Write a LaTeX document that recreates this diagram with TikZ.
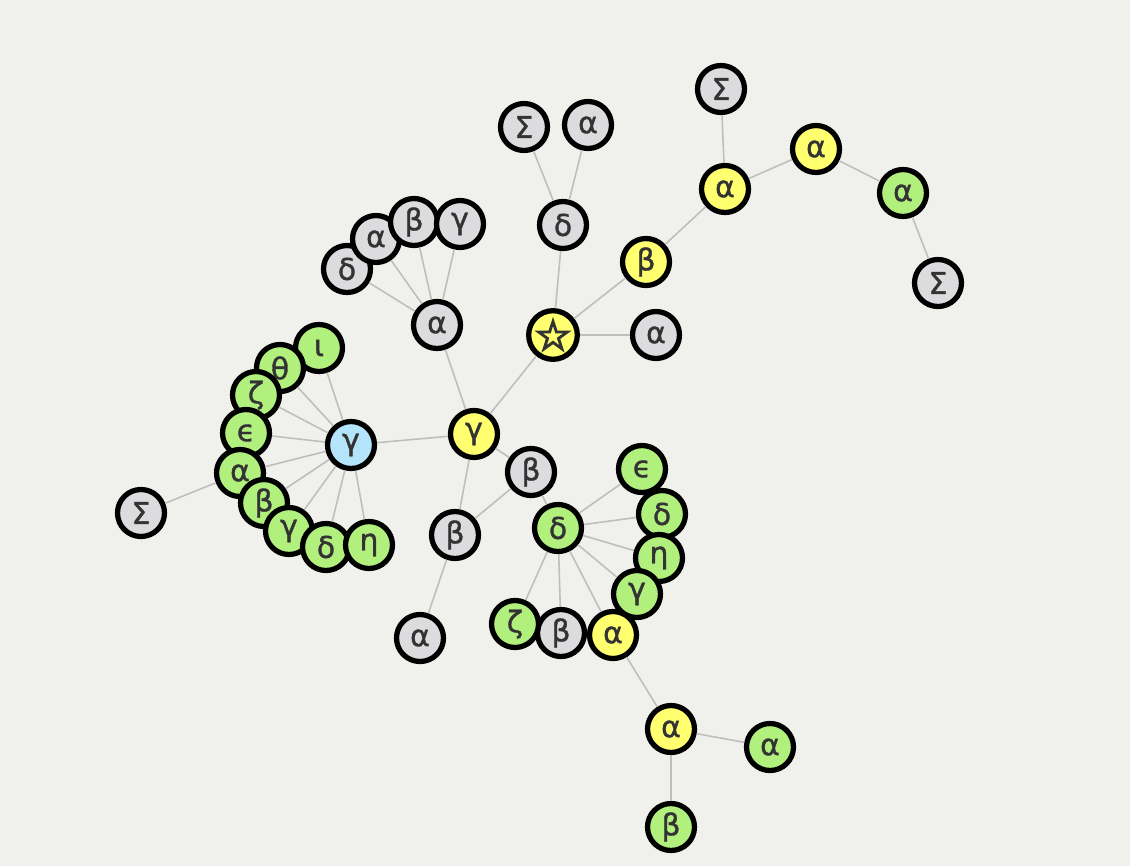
\documentclass[tikz,border=0pt]{standalone}
\usepackage{fontspec}
\setmainfont{DejaVu Sans}[FakeBold=1.2]
\newfontfamily\starfont{DejaVu Sans}[FakeBold=4]
\usepackage{xcolor}

\definecolor{bgpaper}{HTML}{F0F0EC}
\definecolor{greyfill}{HTML}{DCDCDE}
\definecolor{yellowfill}{HTML}{FFFF70}
\definecolor{greenfill}{HTML}{B2F07E}
\definecolor{bluefill}{HTML}{B4E4FA}
\definecolor{edgegrey}{HTML}{BEBEBA}

\begin{document}
\begin{tikzpicture}[
      x=0.02cm, y=-0.02cm,
      atom/.style = {
        circle, draw=black, line width=3pt,
        minimum size=0.94cm, inner sep=0pt,
        font=\fontsize{17}{17}\selectfont, text=black!80
      },
      grey/.style   = {atom, fill=greyfill},
      yellow/.style = {atom, fill=yellowfill},
      green/.style  = {atom, fill=greenfill},
      blue/.style   = {atom, fill=bluefill},
      bond/.style   = {draw=edgegrey, line width=0.9pt}
    ]

    \fill[bgpaper] (0,0) rectangle (1130,866);
    \useasboundingbox (0,0) rectangle (1130,866);

    % upper right chain
    \node[grey]   (SigmaTop)   at (721, 89) {Σ};
    \node[yellow] (alphaY1)    at (725,189) {α};
    \node[yellow] (alphaY2)    at (816,149) {α};
    \node[green]  (alphaG1)    at (903,193) {α};
    \node[grey]   (SigmaRight) at (938,283) {Σ};
    \node[yellow] (betaY)      at (646,262) {β};

    % star hub
    \node[yellow] (star)       at (553,335) {\starfont\fontsize{24}{24}\selectfont ☆};
    \node[grey]   (alphaStar)  at (656,335) {α};
    \node[grey]   (deltaTop)   at (563,225) {δ};
    \node[grey]   (SigmaMid)   at (524,127) {Σ};
    \node[grey]   (alphaMid)   at (588,125) {α};

    % centre
    \node[yellow] (gammaC)     at (474,434) {γ};
    \node[grey]   (alphaUp)    at (437,325) {α};
    \node[grey]   (deltaUp)    at (347,269) {δ};
    \node[grey]   (alphaUp2)   at (376,239) {α};
    \node[grey]   (betaUp)     at (414,222) {β};
    \node[grey]   (gammaUp)    at (460,224) {γ};

    % blue hub and its ring
    \node[blue]   (gammaB)     at (351,445) {γ};
    \node[green]  (iotaR)      at (319,348) {ι};
    \node[green]  (thetaR)     at (280,368) {θ};
    \node[green]  (zetaR)      at (256,395) {ζ};
    \node[green]  (epsR)       at (246,433) {ϵ};
    \node[green]  (alphaR)     at (240,473) {α};
    \node[green]  (betaR)      at (264,503) {β};
    \node[green]  (gammaR)     at (289,531) {γ};
    \node[green]  (deltaR)     at (326,547) {δ};
    \node[green]  (etaR)       at (369,545) {η};
    \node[grey]   (SigmaLeft)  at (141,513) {Σ};

    % lower middle
    \node[grey]   (betaA)      at (531,472) {β};
    \node[grey]   (betaB)      at (455,535) {β};
    \node[grey]   (alphaLow)   at (420,638) {α};

    % green hub and its ring
    \node[green]  (deltaG)     at (558,528) {δ};
    \node[green]  (epsS)       at (642,469) {ϵ};
    \node[green]  (deltaS)     at (662,514) {δ};
    \node[green]  (etaS)       at (659,558) {η};
    \node[green]  (gammaS)     at (637,594) {γ};
    \node[yellow] (alphaS)     at (613,635) {α};
    \node[grey]   (betaS)      at (561,633) {β};
    \node[green]  (zetaS)      at (515,624) {ζ};

    % bottom
    \node[yellow] (alphaBot)   at (671,729) {α};
    \node[green]  (alphaBotR)  at (770,747) {α};
    \node[green]  (betaBot)    at (671,827) {β};

    % bonds
    \draw[bond] (alphaY1) -- (SigmaTop);
    \draw[bond] (alphaY1) -- (alphaY2);
    \draw[bond] (alphaY2) -- (alphaG1);
    \draw[bond] (alphaG1) -- (SigmaRight);
    \draw[bond] (alphaY1) -- (betaY);
    \draw[bond] (betaY) -- (star);
    \draw[bond] (star) -- (alphaStar);
    \draw[bond] (star) -- (deltaTop);
    \draw[bond] (deltaTop) -- (SigmaMid);
    \draw[bond] (deltaTop) -- (alphaMid);
    \draw[bond] (star) -- (gammaC);

    \draw[bond] (gammaC) -- (alphaUp);
    \draw[bond] (alphaUp) -- (deltaUp);
    \draw[bond] (alphaUp) -- (alphaUp2);
    \draw[bond] (alphaUp) -- (betaUp);
    \draw[bond] (alphaUp) -- (gammaUp);

    \draw[bond] (gammaC) -- (gammaB);
    \draw[bond] (gammaB) -- (iotaR);
    \draw[bond] (gammaB) -- (thetaR);
    \draw[bond] (gammaB) -- (zetaR);
    \draw[bond] (gammaB) -- (epsR);
    \draw[bond] (gammaB) -- (alphaR);
    \draw[bond] (gammaB) -- (betaR);
    \draw[bond] (gammaB) -- (gammaR);
    \draw[bond] (gammaB) -- (deltaR);
    \draw[bond] (gammaB) -- (etaR);
    \draw[bond] (alphaR) -- (SigmaLeft);

    \draw[bond] (gammaC) -- (betaA);
    \draw[bond] (gammaC) -- (betaB);
    \draw[bond] (betaA) -- (betaB);
    \draw[bond] (betaB) -- (alphaLow);
    \draw[bond] (betaA) -- (deltaG);

    \draw[bond] (deltaG) -- (epsS);
    \draw[bond] (deltaG) -- (deltaS);
    \draw[bond] (deltaG) -- (etaS);
    \draw[bond] (deltaG) -- (gammaS);
    \draw[bond] (deltaG) -- (alphaS);
    \draw[bond] (deltaG) -- (betaS);
    \draw[bond] (deltaG) -- (zetaS);

    \draw[bond] (alphaS) -- (alphaBot);
    \draw[bond] (alphaBot) -- (alphaBotR);
    \draw[bond] (alphaBot) -- (betaBot);

  \end{tikzpicture}
\end{document}
